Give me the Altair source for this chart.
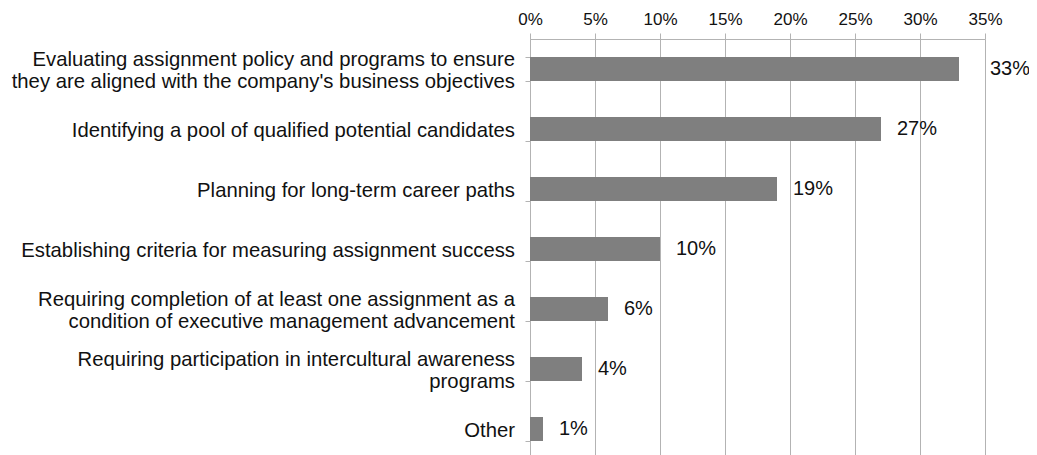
import altair as alt
import pandas as pd

categories = [
    "Evaluating assignment policy and programs to ensure\nthey are aligned with the company's business objectives",
    "Identifying a pool of qualified potential candidates",
    "Planning for long-term career paths",
    "Establishing criteria for measuring assignment success",
    "Requiring completion of at least one assignment as a\ncondition of executive management advancement",
    "Requiring participation in intercultural awareness\nprograms",
    "Other",
]
values = [33, 27, 19, 10, 6, 4, 1]
ticks = [0, 5, 10, 15, 20, 25, 30, 35]

df = pd.DataFrame({"category": categories, "value": values})
FONT = "Liberation Sans"

x = alt.X(
    "value:Q",
    scale=alt.Scale(domain=[0, 35], nice=False),
    axis=alt.Axis(
        orient="top", values=ticks, labelExpr="datum.value + '%'", title=None,
        grid=True, gridColor="#b3b3b3", domainColor="#b3b3b3", tickColor="#b3b3b3",
        tickSize=6, labelFontSize=17, labelFont=FONT, labelColor="#111111", labelPadding=5,
        labelFlush=False, labelOverlap=False,
    ),
)
y = alt.Y(
    "category:N", sort=None, title=None,
    scale=alt.Scale(paddingInner=0.6, paddingOuter=0.3),
    axis=alt.Axis(
        labels=False, tickBand="extent",
        tickSize=5, tickColor="#b3b3b3", domainColor="#b3b3b3",
    ),
)
y_plain = alt.Y("category:N", sort=None)

base = alt.Chart(df).transform_calculate(label="datum.value + '%'")
bars = base.mark_bar(color="#7f7f7f", size=24).encode(x=x, y=y)
cat_single = base.transform_filter("indexof(datum.category, '\\n') < 0").mark_text(
    align="right", baseline="middle", dx=-15, dy=2,
    fontSize=20.3, font=FONT, color="#111111",
).encode(x=alt.value(0), y=y_plain, text=alt.Text("category:N"))
cat_multi = base.transform_filter("indexof(datum.category, '\\n') >= 0").mark_text(
    align="right", baseline="middle", lineBreak="\n", lineHeight=22, dx=-15, dy=-9,
    fontSize=20.3, font=FONT, color="#111111",
).encode(x=alt.value(0), y=y_plain, text=alt.Text("category:N"))
labels = base.transform_filter("datum.value < 30").mark_text(
    align="left", baseline="middle", dx=16, fontSize=20, font=FONT, color="#111111"
).encode(x="value:Q", y=y_plain, text=alt.Text("label:N"))
labels_top = base.transform_filter("datum.value >= 30").mark_text(
    align="left", baseline="middle", dx=31, fontSize=20, font=FONT, color="#111111"
).encode(x="value:Q", y=y_plain, text=alt.Text("label:N"))

chart = (
    alt.layer(bars, cat_single, cat_multi, labels, labels_top)
    .properties(
        width=455, height=420,
        autosize=alt.AutoSizeParams(type="none"),
        padding={"left": 522, "top": 31, "right": 44, "bottom": 0},
        background="white",
    )
    .configure_view(stroke=None)
)
chart.save("out.html", embed_options={"renderer": "svg", "actions": False})
